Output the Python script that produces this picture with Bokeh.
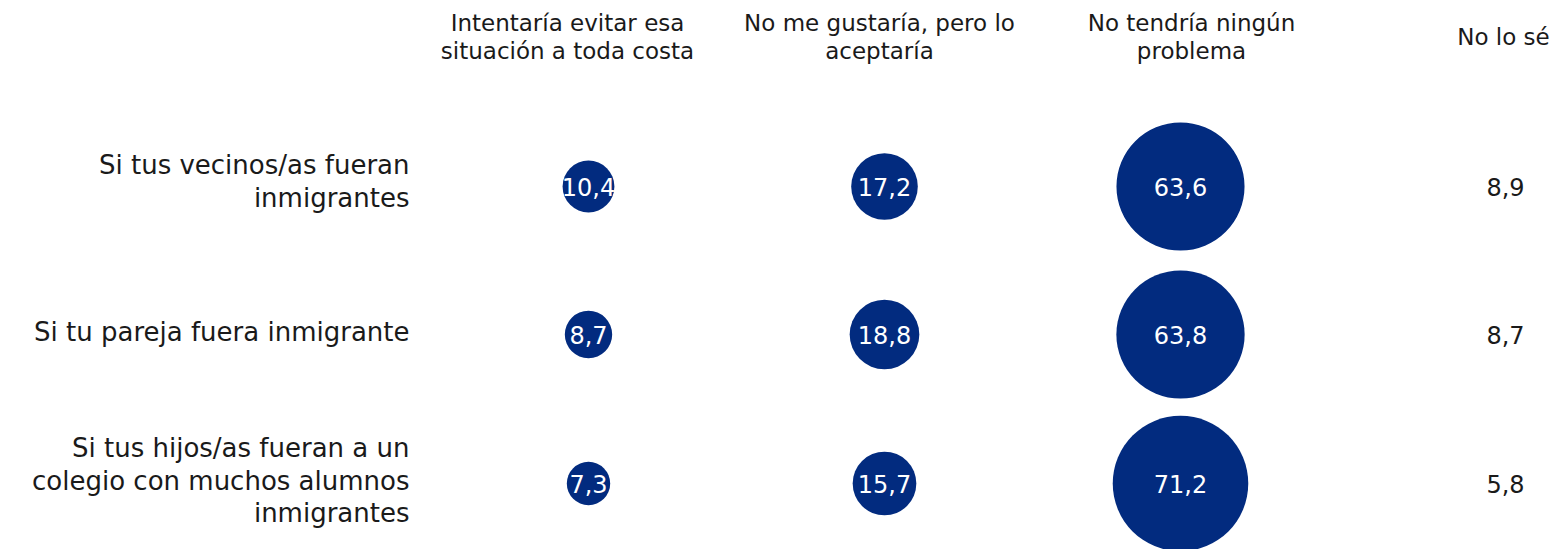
from bokeh.plotting import figure
from bokeh.models import Range1d, ColumnDataSource
from bokeh.core.properties import value
from bokeh.embed import file_html
from bokeh.resources import INLINE
import math

# ---- data ----
columns = ["Intentaría evitar esa\nsituación a toda costa",
           "No me gustaría, pero lo\naceptaría",
           "No tendría ningún\nproblema",
           "No lo sé"]
rows = ["Si tus vecinos/as fueran\ninmigrantes",
        "Si tu pareja fuera inmigrante",
        "Si tus hijos/as fueran a un\ncolegio con muchos alumnos\ninmigrantes"]
evitar = [10.4, 8.7, 7.3]
no_gustaria = [17.2, 18.8, 15.7]
ningun_problema = [63.6, 63.8, 71.2]
no_lo_se = [8.9, 8.7, 5.8]

# ---- layout (pixel-like coordinates) ----
W, H = 1557, 549
col_x = [588, 884, 1180, 1505]
head_x = [567, 879, 1191, 1503]
head_y = 36.5
row_y = [186, 334, 483]
label_y = [181, 331, 480]
label_x = 409
FONT = "DejaVu Sans"
NAVY = "#022b7f"
INK = "#1a1a1a"
K = 16.06  # diameter scale per sqrt(value)

p = figure(width=W, height=H, output_backend="svg", toolbar_location=None,
           x_range=Range1d(0, W), y_range=Range1d(H, 0), min_border=0)
p.axis.visible = False
p.grid.visible = False
p.outline_line_color = None
p.background_fill_color = "white"

bx, by, bs, bt = [], [], [], []
for ci, series in enumerate([evitar, no_gustaria, ningun_problema]):
    for ri, v in enumerate(series):
        bx.append(col_x[ci]); by.append(row_y[ri])
        bs.append(K * math.sqrt(v))
        bt.append(f"{v:.1f}".replace(".", ","))
src = ColumnDataSource(dict(x=bx, y=by, s=bs, t=bt))
p.scatter("x", "y", size="s", source=src, fill_color=NAVY, line_color=None)
p.text("x", "y", text="t", source=src, text_color="white", text_align="center",
       text_baseline="middle", text_font=value(FONT), text_font_size="24px")

# no lo se values
p.text(x=[col_x[3]] * 3, y=row_y, text=[f"{v:.1f}".replace(".", ",") for v in no_lo_se],
       text_color=INK, text_align="center", text_baseline="middle",
       text_font=value(FONT), text_font_size="24px")

# headers
p.text(x=head_x, y=[head_y] * 4, text=columns, text_color=INK, text_align="center",
       text_baseline="middle", text_font=value(FONT), text_font_size="23px",
       text_line_height=1.11)

# row labels
p.text(x=[label_x] * 3, y=label_y, text=rows, text_color=INK,
       text_align="right", text_baseline="middle", text_font=value(FONT),
       text_font_size="26px", text_line_height=1.075)

open("out.html", "w").write(file_html(p, INLINE))
